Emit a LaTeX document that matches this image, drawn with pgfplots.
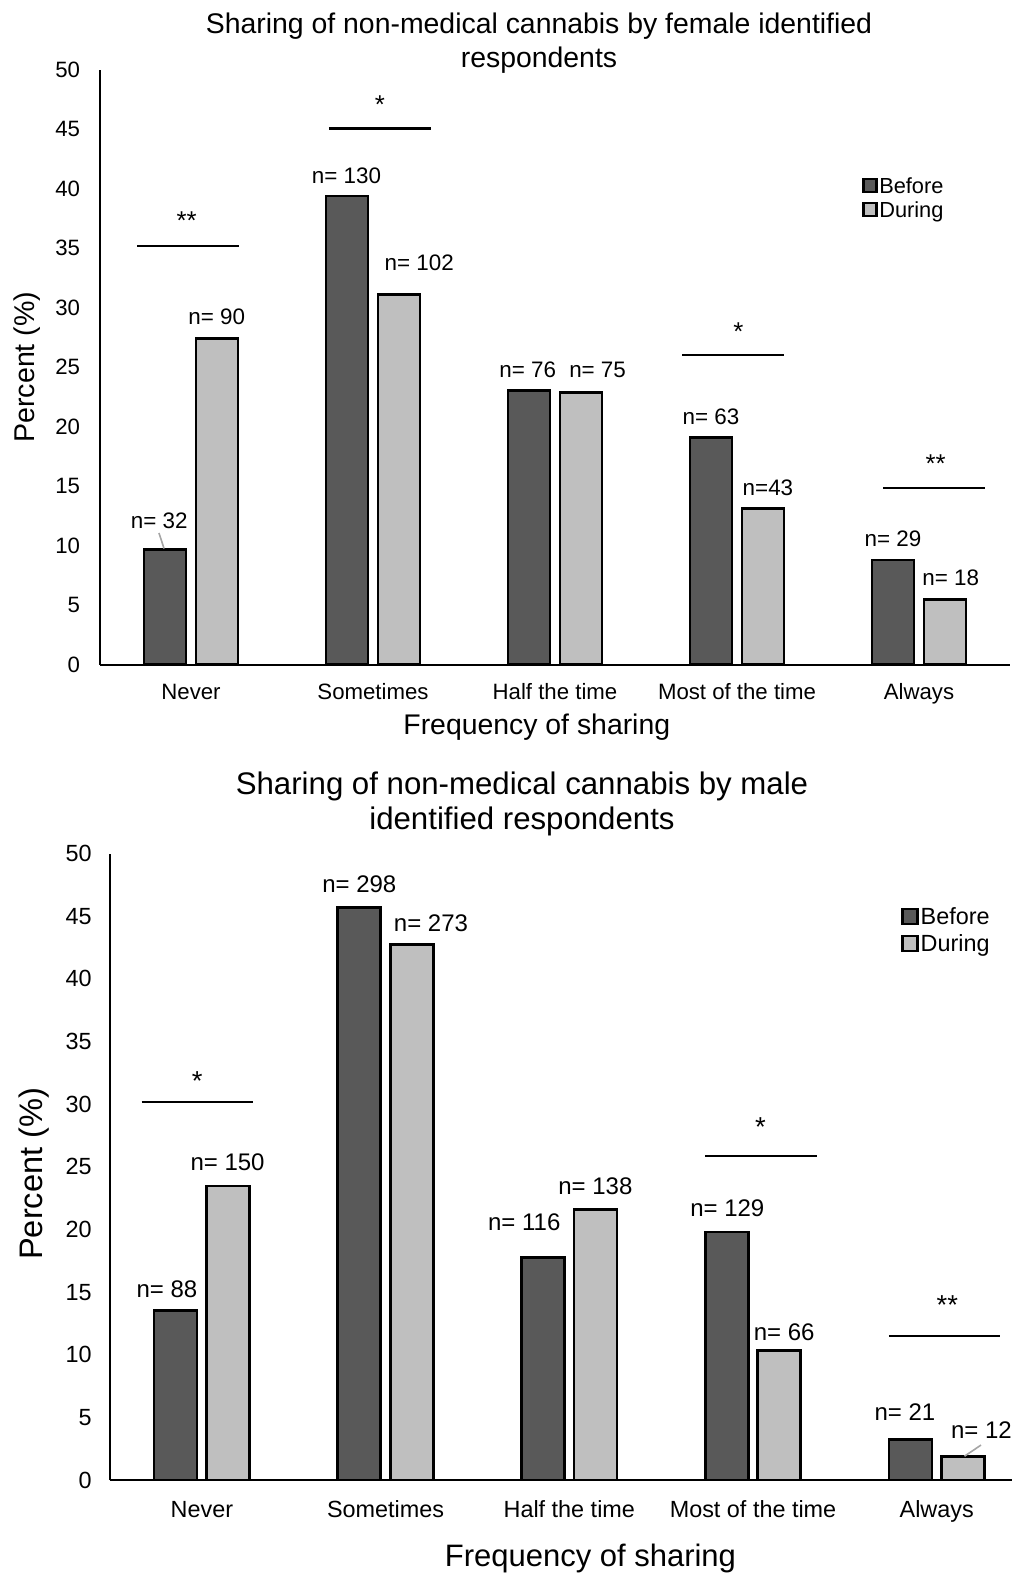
\documentclass[border=0pt]{standalone}
\usepackage{fontspec}
\setmainfont{Liberation Sans}
\usepackage{pgfplots}
\usepackage{pgfplotstable}
\pgfplotsset{compat=1.18}

\definecolor{before}{RGB}{89,89,89}
\definecolor{during}{RGB}{191,191,191}
\definecolor{leader}{RGB}{165,165,165}

\newcommand{\fsz}[1]{\fontsize{#1bp}{#1bp}\selectfont}

% Percent of respondents per sharing frequency (0 = Never ... 4 = Always)
\pgfplotstableread{
cat before during
0   9.70   27.44
1   39.39  31.10
2   23.03  22.87
3   19.09  13.11
4   8.79   5.49
}\femaledata
\pgfplotstableread{
cat before during
0   13.50  23.47
1   45.71  42.72
2   17.79  21.60
3   19.79  10.33
4   3.22   1.88
}\maledata

\pgfplotsset{
  sharing/.style={
    scale only axis, enlargelimits=false, clip=false,
    xmin=-0.5, xmax=4.5, ymin=0, ymax=50,
    xtick={0,1,2,3,4},
    xticklabels={Never,Sometimes,Half the time,Most of the time,Always},
    ytick={0,5,...,50},
    axis x line*=bottom, axis y line*=left,
    axis line style={black, line width=1bp},
    major tick length=0pt,
    /pgf/number format/assume math mode=true,
    legend cell align=left,
  },
  sigline/.style={sharp plot, draw=black, fill=none, line width=1.3bp, forget plot},
  leaderline/.style={sharp plot, draw=leader, fill=none, line width=0.8bp, forget plot},
}

\begin{document}
\begin{tikzpicture}
\useasboundingbox (0,0) rectangle (506bp,-787.5bp);

% ---------------- female respondents ----------------
\node[anchor=base, font=\fsz{14.2}] at (269.5bp,-16.6bp) {Sharing of non-medical cannabis by female identified};
\node[anchor=base, font=\fsz{14.2}] at (269.5bp,-33.8bp) {respondents};

\begin{axis}[sharing,
  at={(50bp,-332.25bp)}, anchor=south west,
  width=455bp, height=297.35bp,
  bar width=0.231,
  tick label style={font=\fsz{11.1}},
  xticklabel style={anchor=base, yshift=-17.3bp, inner sep=0pt},
  yticklabel style={anchor=east, xshift=-9.8bp, inner sep=0pt},
  xlabel={Frequency of sharing},
  xlabel style={at={(0.480,-0.1185)}, anchor=base, font=\fsz{14.2}, inner sep=0pt},
  ylabel={Percent (\%)},
  ylabel style={at={(-0.0725,0.5)}, anchor=base, font=\fsz{14.3}, inner sep=0pt},
  legend image code/.code={\draw[#1, line width=1.3bp] (0bp,-2.35bp) rectangle (6.5bp,4.15bp);},
  legend style={draw=none, fill=none, at={(0.837,0.8226)}, anchor=north west,
    inner sep=0pt, row sep=0.3bp, font=\fsz{10.9},
    nodes={inner sep=0.8bp, text height=8bp, text depth=2bp}},
]
\addplot[ybar, fill=before, draw=black, line width=1.4bp, bar shift=-0.143]
  table[x=cat, y=before] {\femaledata};
\addlegendentry{Before}
\addplot[ybar, fill=during, draw=black, line width=1.4bp, bar shift=0.143]
  table[x=cat, y=during] {\femaledata};
\addlegendentry{During}

% significance bars
\addplot[sigline] coordinates {(-0.295,35.18) (0.264,35.18)};
\addplot[sigline] coordinates {(0.758,45.06) (1.317,45.06)};
\addplot[sigline] coordinates {(2.699,26.02) (3.257,26.02)};
\addplot[sigline] coordinates {(3.803,14.83) (4.360,14.83)};
\addplot[leaderline] coordinates {(-0.176,11.06) (-0.148,9.75)};

\begin{scope}[every node/.style={font=\fsz{12.9}, anchor=base}]
\node at (axis cs:-0.024,36.55) {**};
\node at (axis cs:1.038,46.32) {*};
\node at (axis cs:3.007,27.21) {*};
\node at (axis cs:4.091,16.13) {**};
\end{scope}

\begin{scope}[every node/.style={font=\fsz{11.2}}]
\node at (axis cs:-0.175,12.12) {n= 32};
\node at (axis cs:0.141,29.23) {n= 90};
\node at (axis cs:0.854,41.12) {n= 130};
\node at (axis cs:1.254,33.75) {n= 102};
\node at (axis cs:1.850,24.79) {n= 76};
\node at (axis cs:2.234,24.79) {n= 75};
\node at (axis cs:2.857,20.85) {n= 63};
\node at (axis cs:3.170,14.83) {n=43};
\node at (axis cs:3.857,10.58) {n= 29};
\node at (axis cs:4.174,7.30) {n= 18};
\end{scope}
\end{axis}

% ---------------- male respondents ----------------
\node[anchor=base, font=\fsz{15.6}] at (261bp,-397.3bp) {Sharing of non-medical cannabis by male};
\node[anchor=base, font=\fsz{15.6}] at (261bp,-414.95bp) {identified respondents};

\begin{axis}[sharing,
  at={(55bp,-740bp)}, anchor=south west,
  width=459.3bp, height=313.2bp,
  bar width=0.234,
  tick label style={font=\fsz{11.7}},
  xticklabel style={anchor=base, yshift=-18.5bp, inner sep=0pt},
  yticklabel style={anchor=east, xshift=-9bp, inner sep=0pt},
  xlabel={Frequency of sharing},
  xlabel style={at={(0.523,-0.1373)}, anchor=base, font=\fsz{15.5}, inner sep=0pt},
  ylabel={Percent (\%)},
  ylabel style={at={(-0.074,0.489)}, anchor=base, font=\fsz{16.3}, inner sep=0pt},
  legend image code/.code={\draw[#1, line width=1.4bp] (0bp,-2.66bp) rectangle (7.5bp,4.84bp);},
  legend style={draw=none, fill=none, at={(0.861,0.917)}, anchor=north west,
    inner sep=0pt, row sep=0.9bp, font=\fsz{11.7},
    nodes={inner sep=0.8bp, text height=8.6bp, text depth=2.4bp}},
]
\addplot[ybar, fill=before, draw=black, line width=1.4bp, bar shift=-0.143]
  table[x=cat, y=before] {\maledata};
\addlegendentry{Before}
\addplot[ybar, fill=during, draw=black, line width=1.4bp, bar shift=0.143]
  table[x=cat, y=during] {\maledata};
\addlegendentry{During}

% significance bars
\addplot[sigline] coordinates {(-0.328,30.17) (0.279,30.17)};
\addplot[sigline] coordinates {(2.740,25.85) (3.348,25.85)};
\addplot[sigline] coordinates {(3.740,11.49) (4.344,11.49)};
\addplot[leaderline] coordinates {(4.151,1.90) (4.241,2.79)};

\begin{scope}[every node/.style={font=\fsz{13.7}, anchor=base}]
\node at (axis cs:-0.026,31.10) {*};
\node at (axis cs:3.040,27.45) {*};
\node at (axis cs:4.058,13.18) {**};
\end{scope}

\begin{scope}[every node/.style={font=\fsz{12}}]
\node at (axis cs:-0.190,15.23) {n= 88};
\node at (axis cs:0.140,25.39) {n= 150};
\node at (axis cs:0.857,47.59) {n= 298};
\node at (axis cs:1.247,44.48) {n= 273};
\node at (axis cs:1.755,20.54) {n= 116};
\node at (axis cs:2.142,23.45) {n= 138};
\node at (axis cs:2.860,21.70) {n= 129};
\node at (axis cs:3.170,11.83) {n= 66};
\node at (axis cs:3.827,5.40) {n= 21};
\node at (axis cs:4.243,3.95) {n= 12};
\end{scope}
\end{axis}
\end{tikzpicture}
\end{document}
